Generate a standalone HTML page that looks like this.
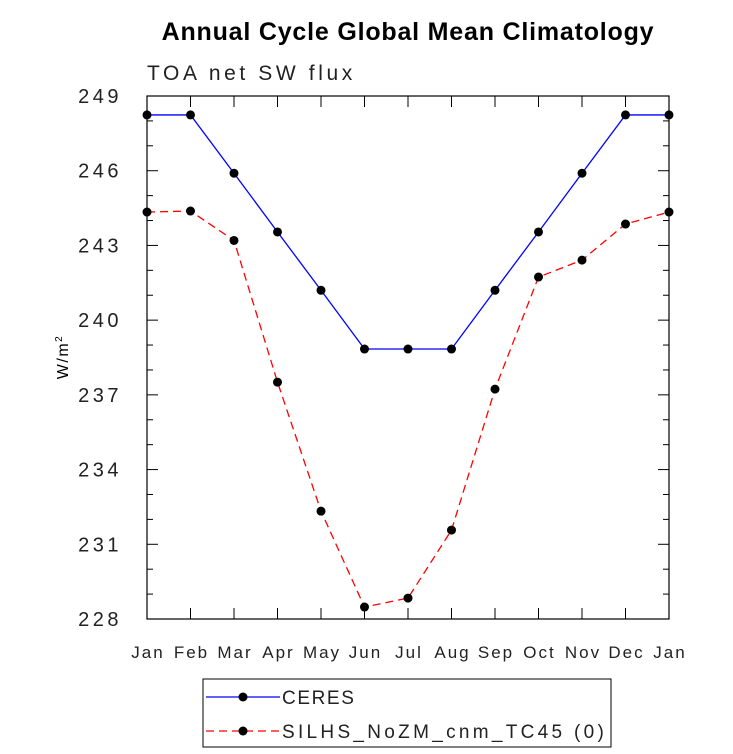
<!DOCTYPE html>
<html><head><meta charset="utf-8"><style>
html,body{margin:0;padding:0;background:#fff;}
svg{display:block;font-family:"Liberation Sans",sans-serif;}
</style></head><body>
<svg id="chart" width="733" height="754">
<text x="408" y="40" text-anchor="middle" font-size="25" font-weight="bold" letter-spacing="0.8">Annual Cycle Global Mean Climatology</text>
<text x="147" y="80" font-size="21" fill="#222" letter-spacing="3.6">TOA net SW flux</text>
<text transform="translate(68,357) rotate(-90)" text-anchor="middle" font-size="16" letter-spacing="1.5">W/m<tspan font-size="10" dy="-6">2</tspan></text>
<rect x="147" y="96" width="522" height="523" fill="none" stroke="#000" stroke-width="1.2"/>
<g id="axes"></g>
<g id="series"></g>
<rect x="203" y="679" width="408" height="68" fill="none" stroke="#000"/>
<line x1="206" y1="697" x2="280" y2="697" stroke="#0000ff" stroke-width="1.2"/>
<circle cx="243" cy="697" r="4.5" fill="#000"/>
<text x="282" y="704" font-size="19" letter-spacing="1.6" fill="#222">CERES</text>
<line x1="206" y1="731" x2="280" y2="731" stroke="#ff0000" stroke-width="1.2" stroke-dasharray="8,5"/>
<circle cx="243" cy="731" r="4.5" fill="#000"/>
<text x="282" y="738" font-size="19" letter-spacing="3.3" fill="#222">SILHS_NoZM_cnm_TC45 (0)</text>
</svg>
<script>
const months=["Jan","Feb","Mar","Apr","May","Jun","Jul","Aug","Sep","Oct","Nov","Dec","Jan"];
const ceres=[248.24,248.24,245.9,243.54,241.2,238.84,238.84,238.84,241.2,243.54,245.9,248.24,248.24];
const silhs=[244.34,244.38,243.2,237.51,232.33,228.48,228.84,231.57,237.23,241.73,242.41,243.86,244.34];
const yTicks=[228,231,234,237,240,243,246,249];
const X0=147,X1=669,Y0=619,Y1=96,YMIN=228,YMAX=249;
const xs=i=>X0+(X1-X0)*i/(months.length-1);
const ys=v=>Y0-(v-YMIN)/(YMAX-YMIN)*(Y0-Y1);
const NS="http://www.w3.org/2000/svg";
const ax=document.getElementById("axes"),sr=document.getElementById("series");
function mk(t,a,p){const e=document.createElementNS(NS,t);for(const k in a)e.setAttribute(k,a[k]);p.appendChild(e);return e;}
for(let v=YMIN;v<=YMAX;v++){
  const y=ys(v),maj=(v-YMIN)%3===0,L=maj?11:6;
  const t1=mk("line",{x1:X0,x2:X0+L,y1:y,y2:y,stroke:"#000"},ax);
  
  
  const t2=mk("line",{x1:X1,x2:X1-L,y1:y,y2:y,stroke:"#000"},ax);
  
  
}
yTicks.forEach(v=>{
  const t=mk("text",{x:122,y:ys(v)+7,"text-anchor":"end","font-size":"20","letter-spacing":"3.5",fill:"#222"},ax);
  t.textContent=v;
  
  
});
months.forEach((m,i)=>{
  const x=xs(i);
  const a=mk("line",{x1:x,x2:x,y1:Y0,y2:Y0-11,stroke:"#000"},ax);
  
  
  const b=mk("line",{x1:x,x2:x,y1:Y1,y2:Y1+11,stroke:"#000"},ax);
  
  
  const t=mk("text",{x:x+1,y:658,"text-anchor":"middle","font-size":"17","letter-spacing":"2",fill:"#222"},ax);
  t.textContent=m;
  
  
});
function draw(vals,color,dash,name){
  const p=mk("polyline",{points:vals.map((v,i)=>xs(i)+","+ys(v)).join(" "),fill:"none",stroke:color,"stroke-width":"1.3","stroke-dasharray":dash},sr);
  
  
  vals.forEach((v,i)=>{
    const c=mk("circle",{cx:xs(i),cy:ys(v),r:4.5,fill:"#000"},sr);
    
    
  });
}
draw(ceres,"#0000ff","none","ceres");
draw(silhs,"#ff0000","8,5","silhs");
</script>
</body></html>
